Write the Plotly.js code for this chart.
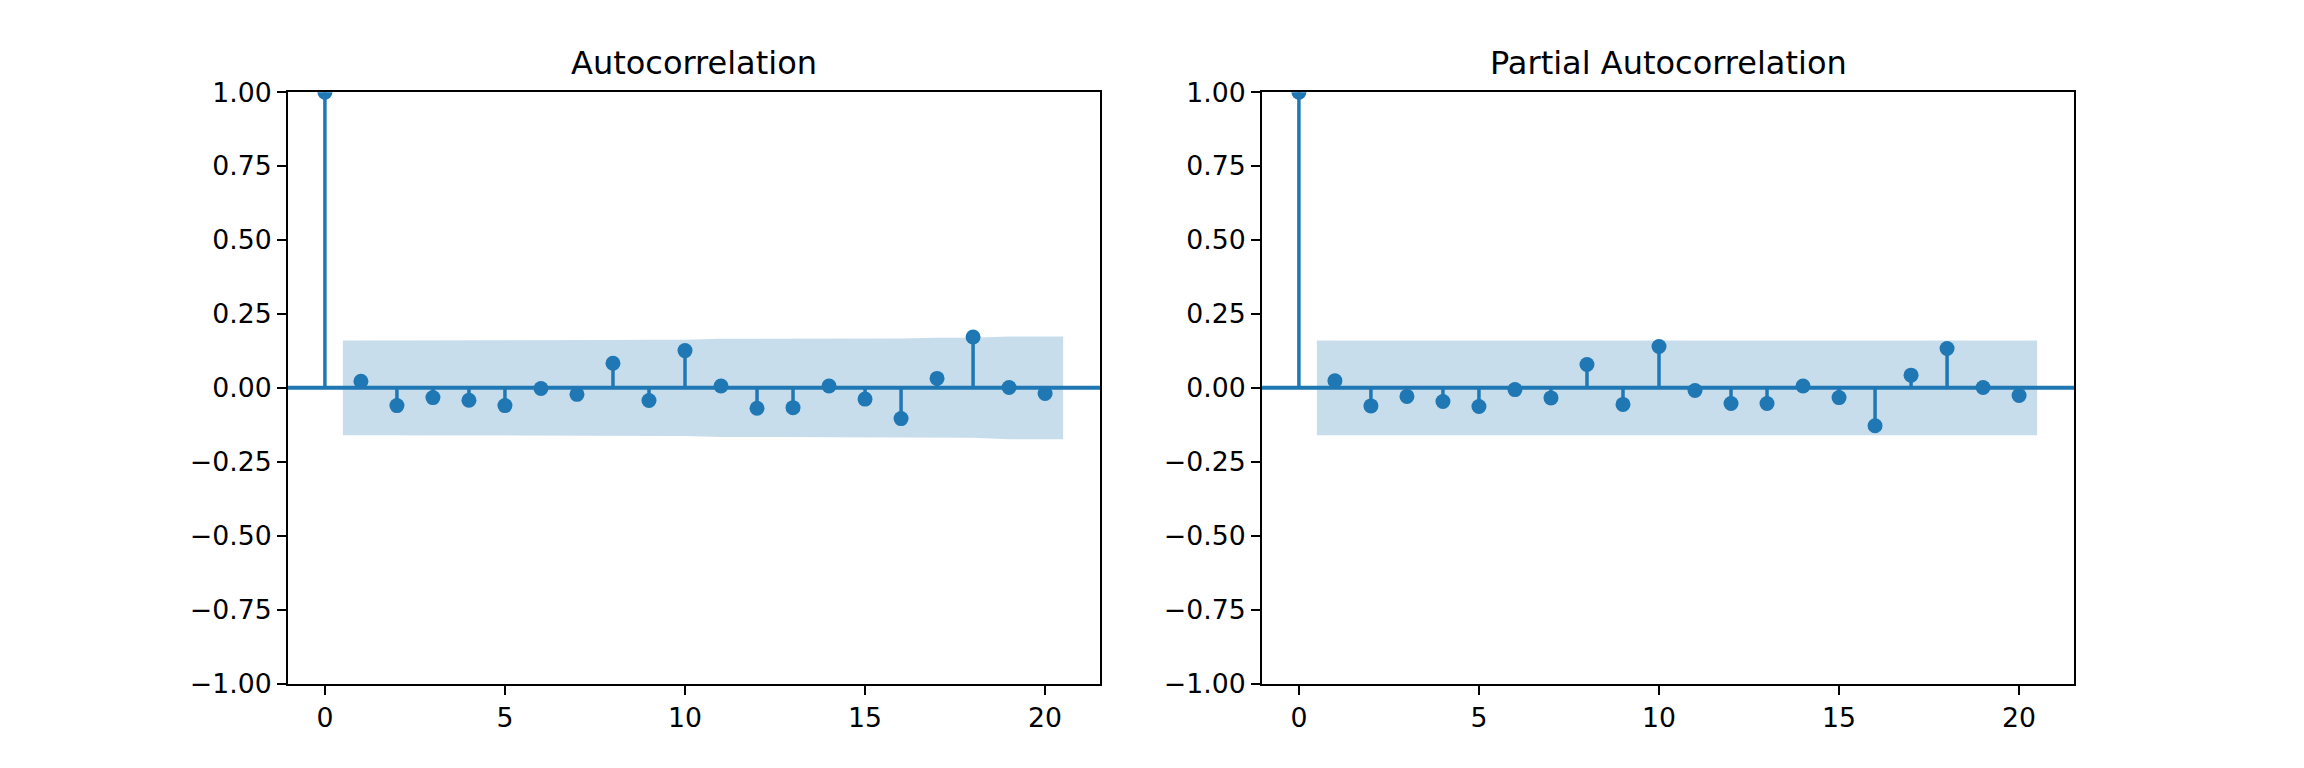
<!DOCTYPE html>
<html>
<head>
<meta charset="utf-8">
<script src="https://cdn.plot.ly/plotly-3.0.1.min.js"></script>
<style>html,body{margin:0;padding:0;background:#fff;}#chart{width:2304px;height:768px;}</style>
</head>
<body>
<div id="chart"></div>
<script>
// ---- data ----
const lags = [0,1,2,3,4,5,6,7,8,9,10,11,12,13,14,15,16,17,18,19,20];
const acfVals = [1.000, 0.022, -0.060, -0.033, -0.042, -0.060, -0.002, -0.022, 0.083, -0.043, 0.126,
                 0.006, -0.069, -0.067, 0.006, -0.038, -0.104, 0.032, 0.172, 0.001, -0.019];
// half-width of confidence band for lags 1..20
const acfBand = [0.160, 0.160, 0.161, 0.161, 0.161, 0.162, 0.162, 0.162, 0.163, 0.163,
                 0.166, 0.166, 0.166, 0.167, 0.167, 0.167, 0.169, 0.169, 0.174, 0.174];
const pacfVals = [1.000, 0.024, -0.061, -0.029, -0.046, -0.063, -0.006, -0.034, 0.079, -0.056, 0.140,
                  -0.009, -0.053, -0.053, 0.006, -0.033, -0.128, 0.043, 0.133, 0.001, -0.026];
const pacfBand = [0.160, 0.160, 0.160, 0.160, 0.160, 0.160, 0.160, 0.160, 0.160, 0.160,
                  0.160, 0.160, 0.160, 0.160, 0.160, 0.160, 0.160, 0.160, 0.160, 0.160];
const titles = ["Autocorrelation", "Partial Autocorrelation"];
const yTickVals = [-1, -0.75, -0.5, -0.25, 0, 0.25, 0.5, 0.75, 1];
const yTickText = ["\u22121.00", "\u22120.75", "\u22120.50", "\u22120.25", "0.00", "0.25", "0.50", "0.75", "1.00"];
const xTickVals = [0, 5, 10, 15, 20];

// ---- style ----
const BLUE = "#1f77b4";
const FONT = "DejaVu Sans, sans-serif";

function buildTraces(vals, band, xa, ya) {
  const traces = [];
  // confidence band (x shifted by 0.5 at ends as statsmodels does)
  const bx = lags.slice(1).map(v => v);
  bx[0] -= 0.5; bx[bx.length - 1] += 0.5;
  const fx = bx.concat(bx.slice().reverse());
  const fy = band.concat(band.slice().reverse().map(v => -v));
  traces.push({type: "scatter", mode: "lines", x: fx, y: fy, fill: "toself",
    fillcolor: "rgba(31,119,180,0.25)", line: {width: 0, color: "rgba(0,0,0,0)"},
    xaxis: xa, yaxis: ya, hoverinfo: "skip"});
  // stems
  const sx = [], sy = [];
  lags.forEach((l, i) => { sx.push(l, l, null); sy.push(0, vals[i], null); });
  traces.push({type: "scatter", mode: "lines", x: sx, y: sy,
    line: {color: BLUE, width: 3.5}, xaxis: xa, yaxis: ya});
  // markers
  traces.push({type: "scatter", mode: "markers", x: lags, y: vals,
    marker: {color: BLUE, size: 15}, xaxis: xa, yaxis: ya, cliponaxis: true});
  return traces;
}

const data = [].concat(
  buildTraces(acfVals, acfBand, "x", "y"),
  buildTraces(pacfVals, pacfBand, "x2", "y2")
);

const domains = [[288/2304, 1100/2304], [1262/2304, 2074/2304]];
function xAxis(dom, anchor) {
  return {domain: dom, anchor: anchor, range: [-1.025, 21.525], tickmode: "array",
    tickvals: xTickVals, ticktext: xTickVals.map(String), ticks: "outside", ticklen: 9, tickwidth: 2,
    tickcolor: "#000", showline: true, mirror: true, linecolor: "#000", linewidth: 2,
    showgrid: false, zeroline: false, tickfont: {family: FONT, size: 26.7, color: "#000"}, fixedrange: true};
}
function yAxis(anchor) {
  return {domain: [0.11, 0.88], anchor: anchor, range: [-1, 1], tickmode: "array",
    tickvals: yTickVals, ticktext: yTickText, ticks: "outside", ticklen: 9, tickwidth: 2,
    tickcolor: "#000", showline: true, mirror: true, linecolor: "#000", linewidth: 2,
    showgrid: false, zeroline: false, tickfont: {family: FONT, size: 26.7, color: "#000"}, fixedrange: true};
}

const layout = {
  width: 2304, height: 768, margin: {l: 0, r: 0, t: 0, b: 0},
  paper_bgcolor: "#fff", plot_bgcolor: "#fff", showlegend: false,
  xaxis: xAxis(domains[0], "y"), yaxis: yAxis("x"),
  xaxis2: xAxis(domains[1], "y2"), yaxis2: yAxis("x2"),
  shapes: [
    {type: "line", xref: "x domain", yref: "y", x0: 0, x1: 1, y0: 0, y1: 0, line: {color: BLUE, width: 4}},
    {type: "line", xref: "x2 domain", yref: "y2", x0: 0, x1: 1, y0: 0, y1: 0, line: {color: BLUE, width: 4}}
  ],
  annotations: titles.map((t, i) => ({
    text: t, xref: "paper", yref: "paper", x: (domains[i][0] + domains[i][1]) / 2, y: 0.88,
    xanchor: "center", yanchor: "bottom", yshift: 8, showarrow: false,
    font: {family: FONT, size: 32, color: "#000"}
  }))
};

Plotly.newPlot("chart", data, layout, {staticPlot: true, displayModeBar: false});
</script>
</body>
</html>
